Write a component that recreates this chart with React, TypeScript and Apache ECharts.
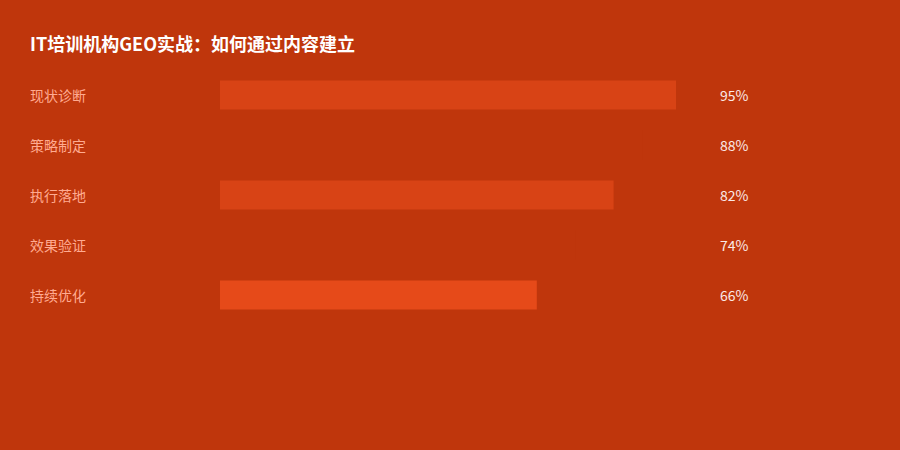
import React, { useEffect, useRef } from "react";
import * as echarts from "echarts";

const categories = ["现状诊断", "策略制定", "执行落地", "效果验证", "持续优化"];
const values = [95, 88, 82, 74, 66];
const barColors = ["#d84315", "#bf360c", "#d84315", "#bf360c", "#e64a19"];
const titleText = "IT培训机构GEO实战：如何通过内容建立";

const BG = "#bf360c";
const FONT = '"Noto Sans CJK SC", "Noto Sans", sans-serif';

export default function App() {
  const ref = useRef<HTMLDivElement>(null);

  useEffect(() => {
    if (!ref.current) return;
    const chart = echarts.init(ref.current, undefined, { renderer: "svg" });

    chart.setOption({
      animation: false,
      backgroundColor: BG,
      textStyle: { fontFamily: FONT },
      title: {
        text: titleText,
        left: 30,
        top: 34,
        padding: 0,
        textStyle: {
          color: "#ffffff",
          fontSize: 18,
          fontWeight: "bold",
          fontFamily: FONT,
        },
      },
      grid: { left: 220, right: 200, top: 70, height: 250 },
      xAxis: {
        type: "value",
        min: 0,
        max: 100,
        show: false,
      },
      yAxis: [
        {
          type: "category",
          data: categories,
          inverse: true,
          axisLine: { show: false },
          axisTick: { show: false },
          splitLine: { show: false },
          axisLabel: {
            color: "#ffab91",
            fontSize: 14,
            align: "left",
            margin: 190,
            padding: [0, 0, 4, 0],
            fontFamily: FONT,
          },
        },
        {
          type: "category",
          data: values.map((v) => `${v}%`),
          inverse: true,
          position: "right",
          axisLine: { show: false },
          axisTick: { show: false },
          splitLine: { show: false },
          axisLabel: {
            color: "#fbe9e7",
            fontSize: 14,
            align: "left",
            margin: 20,
            padding: [0, 0, 4, 0],
            fontFamily: FONT,
          },
        },
      ],
      series: [
        {
          type: "bar",
          yAxisIndex: 0,
          barWidth: 29,
          data: values.map((v, i) => ({
            value: v,
            itemStyle: { color: barColors[i] },
          })),
        },
      ],
    });

    return () => chart.dispose();
  }, []);

  return (
    <div
      ref={ref}
      style={{ position: "fixed", left: 0, top: 0, width: 900, height: 450 }}
    />
  );
}
